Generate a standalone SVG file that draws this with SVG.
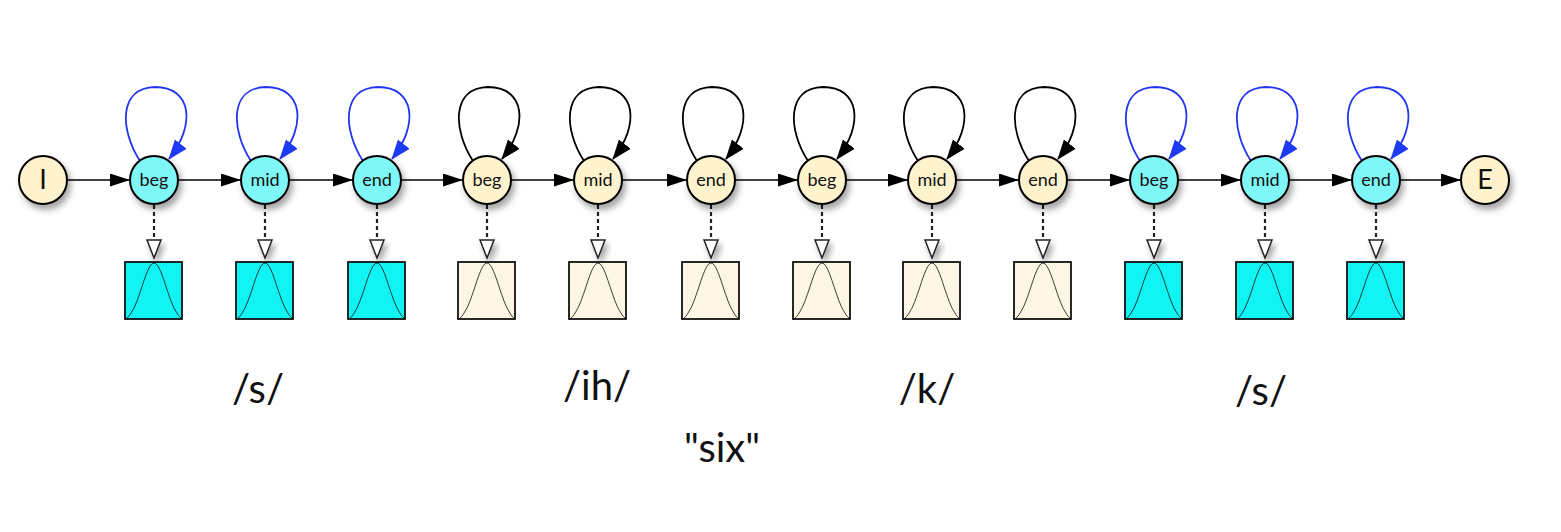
<svg xmlns="http://www.w3.org/2000/svg" xmlns:xlink="http://www.w3.org/1999/xlink" width="1561" height="532" viewBox="0 0 1561 532">
<style>
.st{stroke:#000;stroke-width:2}
.cy{fill:#80F7F7}
.bg{fill:#FFF3CE}
.bxc{fill:#10F4F4;stroke:#111;stroke-width:1.8}
.bxb{fill:#FDF6E4;stroke:#111;stroke-width:1.8}
.nl{font-family:Lato,"Liberation Sans",sans-serif;font-size:18px;fill:#111;text-anchor:middle}
.big{font-family:Lato,"Liberation Sans",sans-serif;font-size:27px;fill:#111;text-anchor:middle}
.ph{font-family:Lato,"Liberation Sans",sans-serif;font-size:40px;fill:#111;text-anchor:middle}
.h{fill:none;stroke:#000;stroke-width:1.6}
.lb{fill:none;stroke:#2236F0;stroke-width:1.8}
.lk{fill:none;stroke:#000;stroke-width:1.8}
.dot{fill:none;stroke:#222;stroke-width:2.2;stroke-dasharray:4,3}
.tri{fill:#fff;stroke:#222;stroke-width:1.5}
.bell{fill:none;stroke:#111;stroke-width:0.8}
</style>
<defs>
<filter id="sh" x="-50%" y="-50%" width="200%" height="200%">
<feDropShadow dx="3" dy="5" stdDeviation="3" flood-color="#000" flood-opacity="0.35"/>
</filter>
<marker id="ah" viewBox="0 0 20 13" refX="20" refY="6.5" markerWidth="20" markerHeight="13" markerUnits="userSpaceOnUse" orient="auto">
<path d="M0,0 L20,6.5 L0,13 z" fill="#000"/>
</marker>
<marker id="ahb" viewBox="0 0 20 15" refX="19" refY="7.5" markerWidth="20" markerHeight="15" markerUnits="userSpaceOnUse" orient="auto">
<path d="M0,0 L20,7.5 L0,15 z" fill="#1F3AF5"/>
</marker>
<marker id="ahk" viewBox="0 0 20 15" refX="19" refY="7.5" markerWidth="20" markerHeight="15" markerUnits="userSpaceOnUse" orient="auto">
<path d="M0,0 L20,7.5 L0,15 z" fill="#000"/>
</marker>
<path id="bellp" d="M-28,0 L-26,-1.8 L-24,-4.2 L-20,-11 L-17,-18 L-14,-26.4 L-12,-32.4 L-10,-38.5 L-8,-44.1 L-6,-49 L-4,-52.8 L-2,-55.2 L0,-56 L2,-55.2 L4,-52.8 L6,-49 L8,-44.1 L10,-38.5 L12,-32.4 L14,-26.4 L17,-18 L20,-11 L24,-4.2 L26,-1.8 L28,0"/>
<path id="loop" d="M-14,-19 C-34,-50 -36,-92 1,-93 C38,-93 42,-55 15,-21"/>
<g id="emit">
<line class="dot" x1="0" y1="205" x2="0" y2="240"/>
<path class="tri" d="M-7,240 L7,240 L0,258 z" filter="url(#sh)"/>
</g>
</defs>
<rect width="1561" height="532" fill="#fff"/>

<g id="connectors">
<line class="h" x1="67" y1="180" x2="130" y2="180" marker-end="url(#ah)"/>
<line class="h" x1="178" y1="180" x2="241" y2="180" marker-end="url(#ah)"/>
<line class="h" x1="289" y1="180" x2="353" y2="180" marker-end="url(#ah)"/>
<line class="h" x1="401" y1="180" x2="463" y2="180" marker-end="url(#ah)"/>
<line class="h" x1="511" y1="180" x2="574" y2="180" marker-end="url(#ah)"/>
<line class="h" x1="622" y1="180" x2="687" y2="180" marker-end="url(#ah)"/>
<line class="h" x1="735" y1="180" x2="798" y2="180" marker-end="url(#ah)"/>
<line class="h" x1="846" y1="180" x2="908" y2="180" marker-end="url(#ah)"/>
<line class="h" x1="956" y1="180" x2="1019" y2="180" marker-end="url(#ah)"/>
<line class="h" x1="1067" y1="180" x2="1130" y2="180" marker-end="url(#ah)"/>
<line class="h" x1="1178" y1="180" x2="1241" y2="180" marker-end="url(#ah)"/>
<line class="h" x1="1289" y1="180" x2="1352" y2="180" marker-end="url(#ah)"/>
<line class="h" x1="1400" y1="180" x2="1461" y2="180" marker-end="url(#ah)"/>

<use xlink:href="#loop" class="lb" transform="translate(154,180)" marker-end="url(#ahb)"/>
<use xlink:href="#loop" class="lb" transform="translate(265,180)" marker-end="url(#ahb)"/>
<use xlink:href="#loop" class="lb" transform="translate(377,180)" marker-end="url(#ahb)"/>
<use xlink:href="#loop" class="lk" transform="translate(487,180)" marker-end="url(#ahk)"/>
<use xlink:href="#loop" class="lk" transform="translate(598,180)" marker-end="url(#ahk)"/>
<use xlink:href="#loop" class="lk" transform="translate(711,180)" marker-end="url(#ahk)"/>
<use xlink:href="#loop" class="lk" transform="translate(822,180)" marker-end="url(#ahk)"/>
<use xlink:href="#loop" class="lk" transform="translate(932,180)" marker-end="url(#ahk)"/>
<use xlink:href="#loop" class="lk" transform="translate(1043,180)" marker-end="url(#ahk)"/>
<use xlink:href="#loop" class="lb" transform="translate(1154,180)" marker-end="url(#ahb)"/>
<use xlink:href="#loop" class="lb" transform="translate(1265,180)" marker-end="url(#ahb)"/>
<use xlink:href="#loop" class="lb" transform="translate(1376,180)" marker-end="url(#ahb)"/>

<use xlink:href="#emit" x="154"/>
<use xlink:href="#emit" x="265"/>
<use xlink:href="#emit" x="377"/>
<use xlink:href="#emit" x="487"/>
<use xlink:href="#emit" x="598"/>
<use xlink:href="#emit" x="711"/>
<use xlink:href="#emit" x="822"/>
<use xlink:href="#emit" x="932"/>
<use xlink:href="#emit" x="1043"/>
<use xlink:href="#emit" x="1154"/>
<use xlink:href="#emit" x="1265"/>
<use xlink:href="#emit" x="1376"/>
</g>

<g id="node-I"><circle class="st bg" cx="43" cy="180" r="24" filter="url(#sh)"/><text class="big" x="43" y="189">I</text></g>
<g id="node-E"><circle class="st bg" cx="1485" cy="180" r="24" filter="url(#sh)"/><text class="big" x="1485" y="189">E</text></g>

<g id="s1-beg"><circle class="st cy" cx="154" cy="180" r="24" filter="url(#sh)"/><text class="nl" x="154" y="186">beg</text></g>
<g id="s1-mid"><circle class="st cy" cx="265" cy="180" r="24" filter="url(#sh)"/><text class="nl" x="265" y="186">mid</text></g>
<g id="s1-end"><circle class="st cy" cx="377" cy="180" r="24" filter="url(#sh)"/><text class="nl" x="377" y="186">end</text></g>
<g id="ih-beg"><circle class="st bg" cx="487" cy="180" r="24" filter="url(#sh)"/><text class="nl" x="487" y="186">beg</text></g>
<g id="ih-mid"><circle class="st bg" cx="598" cy="180" r="24" filter="url(#sh)"/><text class="nl" x="598" y="186">mid</text></g>
<g id="ih-end"><circle class="st bg" cx="711" cy="180" r="24" filter="url(#sh)"/><text class="nl" x="711" y="186">end</text></g>
<g id="k-beg"><circle class="st bg" cx="822" cy="180" r="24" filter="url(#sh)"/><text class="nl" x="822" y="186">beg</text></g>
<g id="k-mid"><circle class="st bg" cx="932" cy="180" r="24" filter="url(#sh)"/><text class="nl" x="932" y="186">mid</text></g>
<g id="k-end"><circle class="st bg" cx="1043" cy="180" r="24" filter="url(#sh)"/><text class="nl" x="1043" y="186">end</text></g>
<g id="s2-beg"><circle class="st cy" cx="1154" cy="180" r="24" filter="url(#sh)"/><text class="nl" x="1154" y="186">beg</text></g>
<g id="s2-mid"><circle class="st cy" cx="1265" cy="180" r="24" filter="url(#sh)"/><text class="nl" x="1265" y="186">mid</text></g>
<g id="s2-end"><circle class="st cy" cx="1376" cy="180" r="24" filter="url(#sh)"/><text class="nl" x="1376" y="186">end</text></g>

<g id="out-s1-beg"><rect class="bxc" x="125" y="262" width="57" height="57"/><use xlink:href="#bellp" class="bell" x="154" y="319"/></g>
<g id="out-s1-mid"><rect class="bxc" x="236" y="262" width="57" height="57"/><use xlink:href="#bellp" class="bell" x="265" y="319"/></g>
<g id="out-s1-end"><rect class="bxc" x="348" y="262" width="57" height="57"/><use xlink:href="#bellp" class="bell" x="377" y="319"/></g>
<g id="out-ih-beg"><rect class="bxb" x="458" y="262" width="57" height="57"/><use xlink:href="#bellp" class="bell" x="487" y="319"/></g>
<g id="out-ih-mid"><rect class="bxb" x="569" y="262" width="57" height="57"/><use xlink:href="#bellp" class="bell" x="598" y="319"/></g>
<g id="out-ih-end"><rect class="bxb" x="682" y="262" width="57" height="57"/><use xlink:href="#bellp" class="bell" x="711" y="319"/></g>
<g id="out-k-beg"><rect class="bxb" x="793" y="262" width="57" height="57"/><use xlink:href="#bellp" class="bell" x="822" y="319"/></g>
<g id="out-k-mid"><rect class="bxb" x="903" y="262" width="57" height="57"/><use xlink:href="#bellp" class="bell" x="932" y="319"/></g>
<g id="out-k-end"><rect class="bxb" x="1014" y="262" width="57" height="57"/><use xlink:href="#bellp" class="bell" x="1043" y="319"/></g>
<g id="out-s2-beg"><rect class="bxc" x="1125" y="262" width="57" height="57"/><use xlink:href="#bellp" class="bell" x="1154" y="319"/></g>
<g id="out-s2-mid"><rect class="bxc" x="1236" y="262" width="57" height="57"/><use xlink:href="#bellp" class="bell" x="1265" y="319"/></g>
<g id="out-s2-end"><rect class="bxc" x="1347" y="262" width="57" height="57"/><use xlink:href="#bellp" class="bell" x="1376" y="319"/></g>

<g id="labels">
<text class="ph" x="258" y="403">/s/</text>
<text class="ph" x="597" y="400">/ih/</text>
<text class="ph" x="927" y="403">/k/</text>
<text class="ph" x="1261" y="405">/s/</text>
<text class="ph" x="722" y="462">"six"</text>
</g>
</svg>
